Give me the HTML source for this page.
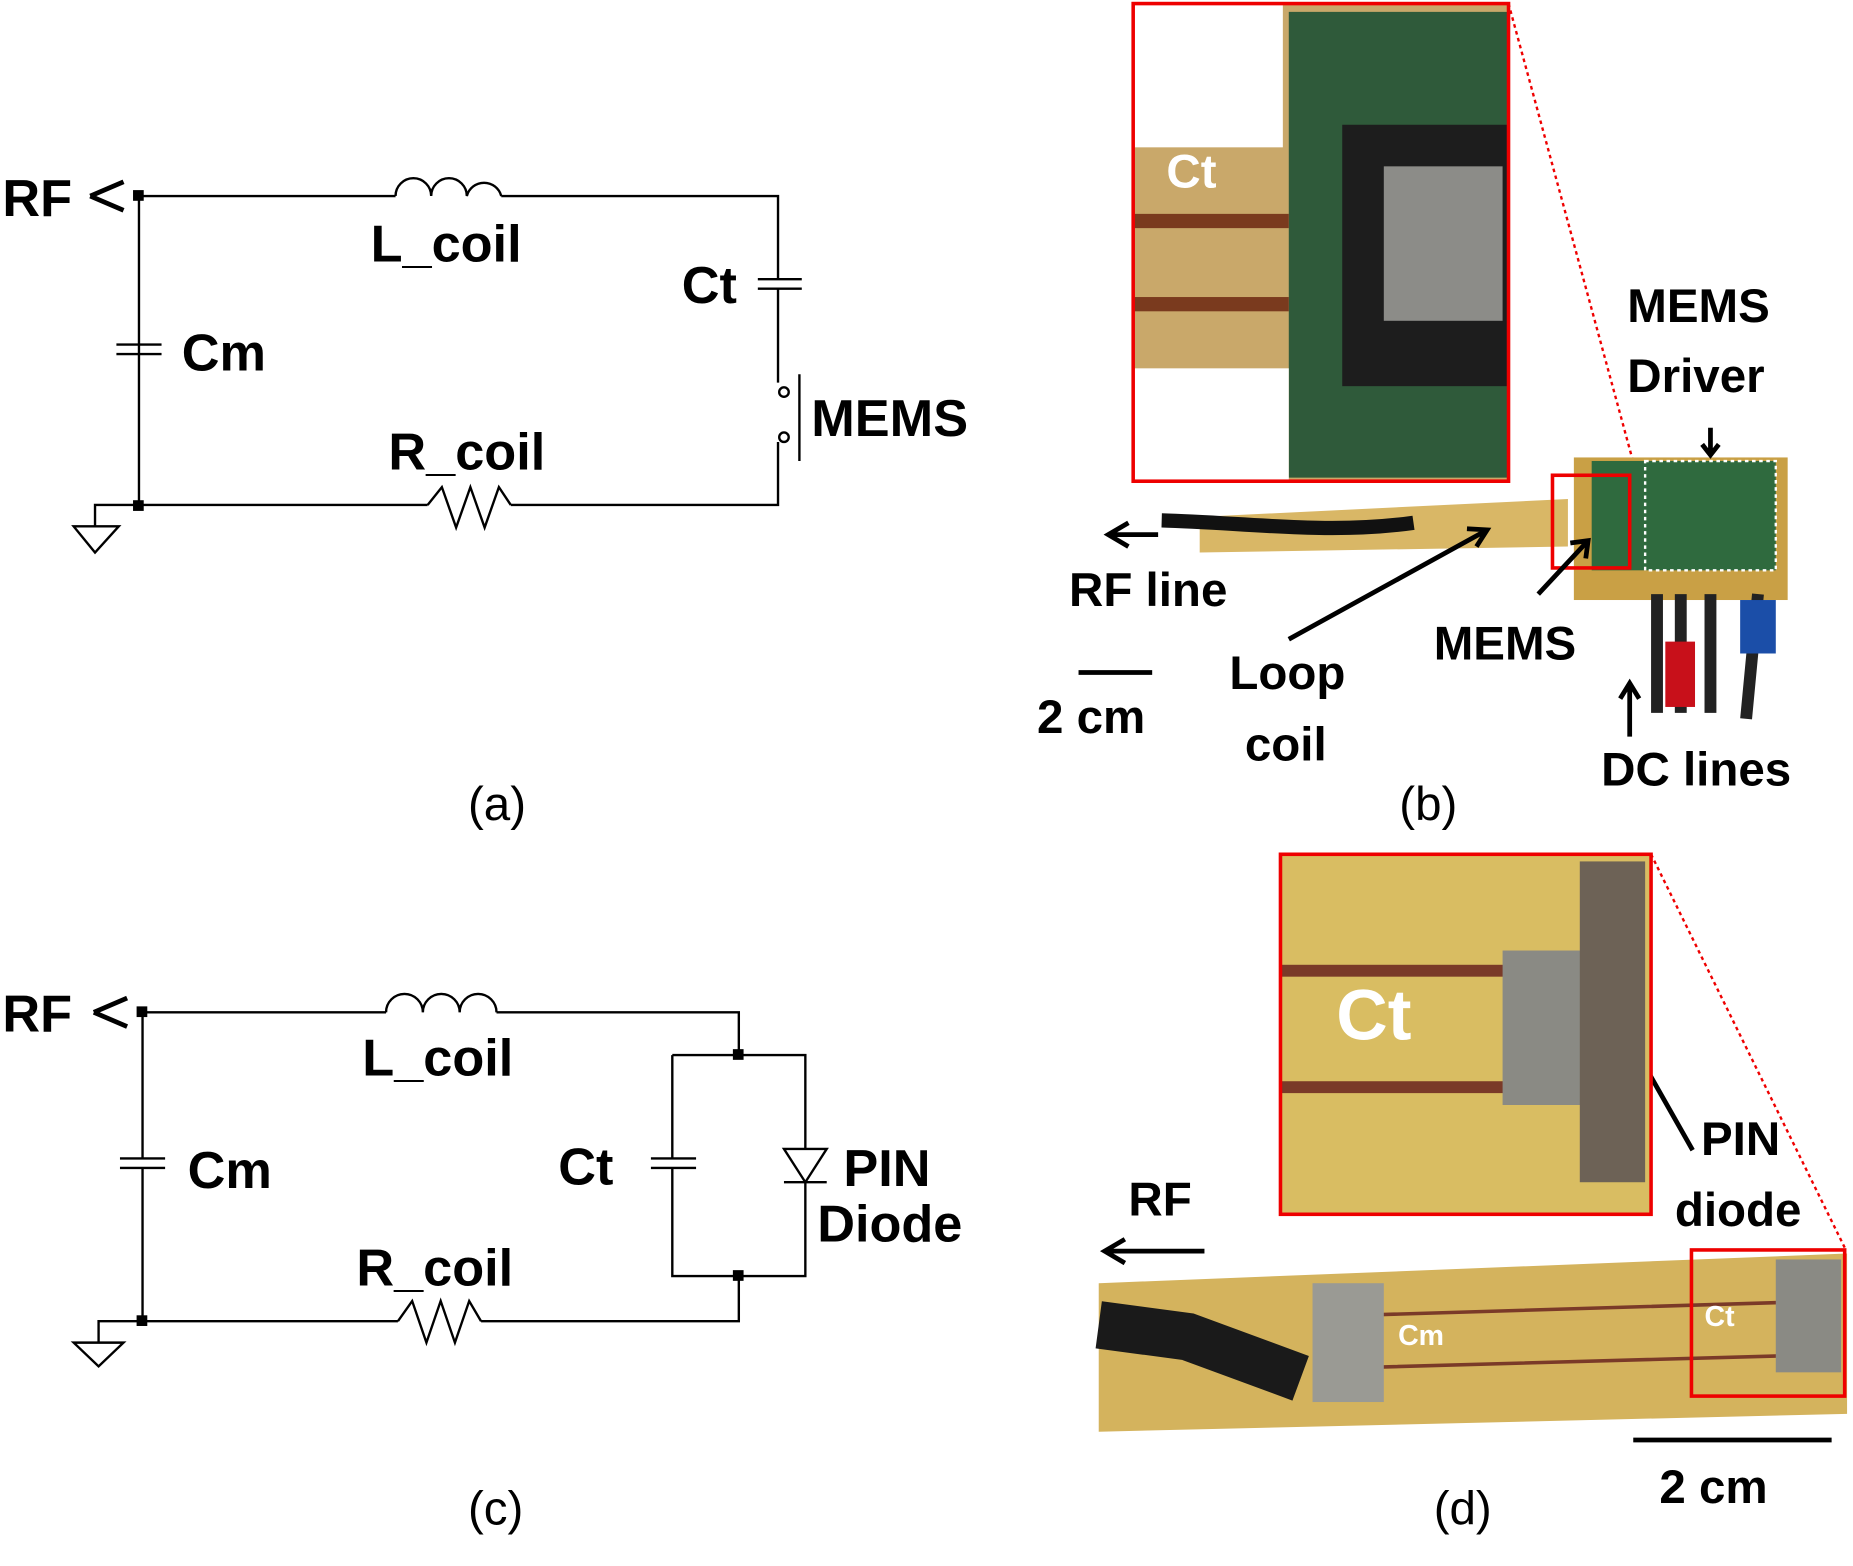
<!DOCTYPE html>
<html><head><meta charset="utf-8"><style>
html,body{margin:0;padding:0;background:#fff;}
svg{display:block}
.b{font-family:"Liberation Sans",sans-serif;font-weight:bold;}
.c{font-family:"Liberation Sans",sans-serif;font-weight:bold;}
.n{font-family:"Liberation Sans",sans-serif;}
</style></head><body>
<svg width="1853" height="1566" viewBox="0 0 1560 1318" preserveAspectRatio="none" xmlns="http://www.w3.org/2000/svg">
<rect width="1560" height="1318" fill="#fff"/>
<g stroke="#000" stroke-width="2" fill="none">
<path d="M117 165 H333 M422 165 H655 V235 M655 243 V322 M655 372 V425 H430 M360 425 H117 V290 M117 298 V165"/>
<path d="M333 165 a15 15 0 0 1 30 0 a15 15 0 0 1 30 0 a15 15 0 0 1 29 0"/>
<path d="M638 235 H675 M638 243 H675 M98 290 H136 M98 298 H136"/>
<path d="M360 425 L372 410 L384 444 L396 410 L408 444 L420 410 L430 425"/>
<circle cx="660" cy="330" r="4"/><circle cx="660" cy="368" r="4"/>
<path d="M673 315 V388"/>
<path d="M117 425 H80 V443 M62 443 H100 L80 465 Z"/>
<path d="M76 165 L104 153 M76 165 L104 177" stroke-width="4"/>
<path d="M120 852 H325 M418 852 H622 V888 M566 888 H678 V967 M678 995 V1074 H566 V983 M566 975 V888 M622 1074 V1112 H405 M335 1112 H120 V983 M120 975 V852"/>
<path d="M325 852 a15 15 0 0 1 31 0 a15 15 0 0 1 31 0 a15 15 0 0 1 31 0"/>
<path d="M548 975 H586 M548 983 H586 M101 975 H139 M101 983 H139"/>
<path d="M335 1112 L347 1095 L359 1130 L371 1095 L383 1130 L395 1095 L405 1112"/>
<path d="M660 967 H696 L678 995 Z M660 995 H696"/>
<path d="M120 1112 H83 V1130 M62 1130 H104 L83 1150 Z"/>
<path d="M79 852 L107 840 M79 852 L107 864" stroke-width="4"/>
</g>
<g fill="#000"><rect x="112" y="160" width="9" height="9"/><rect x="112" y="421" width="9" height="9"/>
<rect x="115" y="847" width="9" height="9"/><rect x="115" y="1107" width="9" height="9"/>
<rect x="617" y="883" width="9" height="9"/><rect x="617" y="1069" width="9" height="9"/></g>
<g class="b" font-size="44">
<text x="2" y="182">RF</text><text x="312" y="220">L_coil</text><text x="574" y="255">Ct</text>
<text x="153" y="312">Cm</text><text x="327" y="395">R_coil</text><text x="683" y="367">MEMS</text>
<text x="2" y="868">RF</text><text x="305" y="905">L_coil</text><text x="158" y="1000">Cm</text>
<text x="470" y="997">Ct</text><text x="710" y="998">PIN</text><text x="688" y="1045">Diode</text>
<text x="300" y="1082">R_coil</text>
</g>
<g class="n" font-size="40"><text x="394" y="690">(a)</text><text x="1178" y="690">(b)</text>
<text x="394" y="1283">(c)</text><text x="1207" y="1283">(d)</text></g>
<rect x="955" y="4" width="314" height="400" fill="#c9a86a"/>
<rect x="1085" y="10" width="184" height="392" fill="#2f5a3a"/>
<rect x="1130" y="105" width="140" height="220" fill="#1d1d1d"/>
<rect x="1165" y="140" width="100" height="130" fill="#8c8c88"/>
<rect x="955" y="180" width="130" height="12" fill="#7a3a1e"/>
<rect x="955" y="250" width="130" height="12" fill="#7a3a1e"/>
<rect x="955" y="4" width="125" height="120" fill="#fff"/>
<rect x="955" y="310" width="130" height="95" fill="#fff"/>
<rect x="954" y="3" width="316" height="402" fill="none" stroke="#e00" stroke-width="3"/>
<line x1="1270" y1="3" x2="1378" y2="400" stroke="#e00" stroke-width="2" stroke-dasharray="3,3"/>
<polygon points="1010,435 1320,420 1320,460 1010,465" fill="#d9b766"/>
<path d="M978 438 C1050 440 1120 450 1190 440" stroke="#111" stroke-width="12" fill="none"/>
<rect x="1325" y="385" width="180" height="120" fill="#c9a045"/>
<rect x="1340" y="388" width="155" height="92" fill="#2f6a3e"/>
<rect x="1307" y="400" width="65" height="78" fill="none" stroke="#e00" stroke-width="3"/>
<rect x="1385" y="388" width="110" height="92" fill="none" stroke="#fff" stroke-width="2" stroke-dasharray="3,3"/>
<path d="M1395 500 V600 M1415 500 V600 M1440 500 V600 M1480 500 L1470 605" stroke="#222" stroke-width="10"/>
<rect x="1402" y="540" width="25" height="55" fill="#c8101a"/>
<rect x="1465" y="505" width="30" height="45" fill="#1b4ea8"/>
<g stroke="#000" stroke-width="4" fill="none">
<path d="M975 450 H935 M950 440 L933 450 L950 460"/>
<path d="M1085 538 L1252 446 M1235 445 L1252 446 L1243 460"/>
<path d="M1295 500 L1337 455 M1322 457 L1337 455 L1335 470"/>
<path d="M1440 360 V383 M1433 374 L1440 383 L1447 374"/>
<path d="M1372 620 V575 M1364 588 L1372 575 L1380 588"/>
<path d="M908 566 H970"/>
<path d="M1425 968 L1375 880 M1372 897 L1375 880 L1389 888"/>
<path d="M1014 1053 H930 M947 1043 L930 1053 L947 1063"/>
<path d="M1375 1212 H1542"/>
</g>
<g class="c" font-size="40">
<text x="982" y="158" fill="#fff">Ct</text>
<text x="1370" y="271">MEMS</text><text x="1370" y="330">Driver</text>
<text x="900" y="510">RF line</text><text x="873" y="617">2 cm</text>
<text x="1035" y="580">Loop</text><text x="1048" y="640">coil</text>
<text x="1207" y="555">MEMS</text><text x="1348" y="661">DC lines</text>
<text x="950" y="1023">RF</text><text x="1432" y="972">PIN</text><text x="1410" y="1032">diode</text>
<text x="1397" y="1265">2 cm</text>
</g>
<rect x="1079" y="720" width="310" height="301" fill="#d9bd62"/>
<rect x="1079" y="812" width="230" height="10" fill="#7a3a28"/>
<rect x="1079" y="910" width="230" height="10" fill="#7a3a28"/>
<rect x="1265" y="800" width="110" height="130" fill="#8a8a84"/>
<rect x="1330" y="725" width="55" height="270" fill="#6d6256"/>
<rect x="1078" y="719" width="312" height="303" fill="none" stroke="#e00" stroke-width="3"/>
<text x="1125" y="875" class="c" font-size="60" fill="#fff">Ct</text>
<line x1="1390" y1="719" x2="1553" y2="1050" stroke="#e00" stroke-width="2" stroke-dasharray="3,3"/>
<polygon points="925,1080 1555,1055 1555,1190 925,1205" fill="#d4b35d"/>
<path d="M1110 1108 L1540 1095 M1110 1152 L1540 1140" stroke="#7a3a28" stroke-width="3"/>
<path d="M925 1115 L1000 1125 L1095 1160" stroke="#1a1a1a" stroke-width="40" fill="none"/>
<rect x="1105" y="1080" width="60" height="100" fill="#9a9a94"/>
<rect x="1495" y="1060" width="55" height="95" fill="#8a8a84"/>
<rect x="1424" y="1052" width="129" height="123" fill="none" stroke="#e00" stroke-width="3"/>
<text x="1177" y="1132" class="c" font-size="24" fill="#fff">Cm</text>
<text x="1435" y="1116" class="c" font-size="24" fill="#fff">Ct</text>
</svg>
</body></html>
